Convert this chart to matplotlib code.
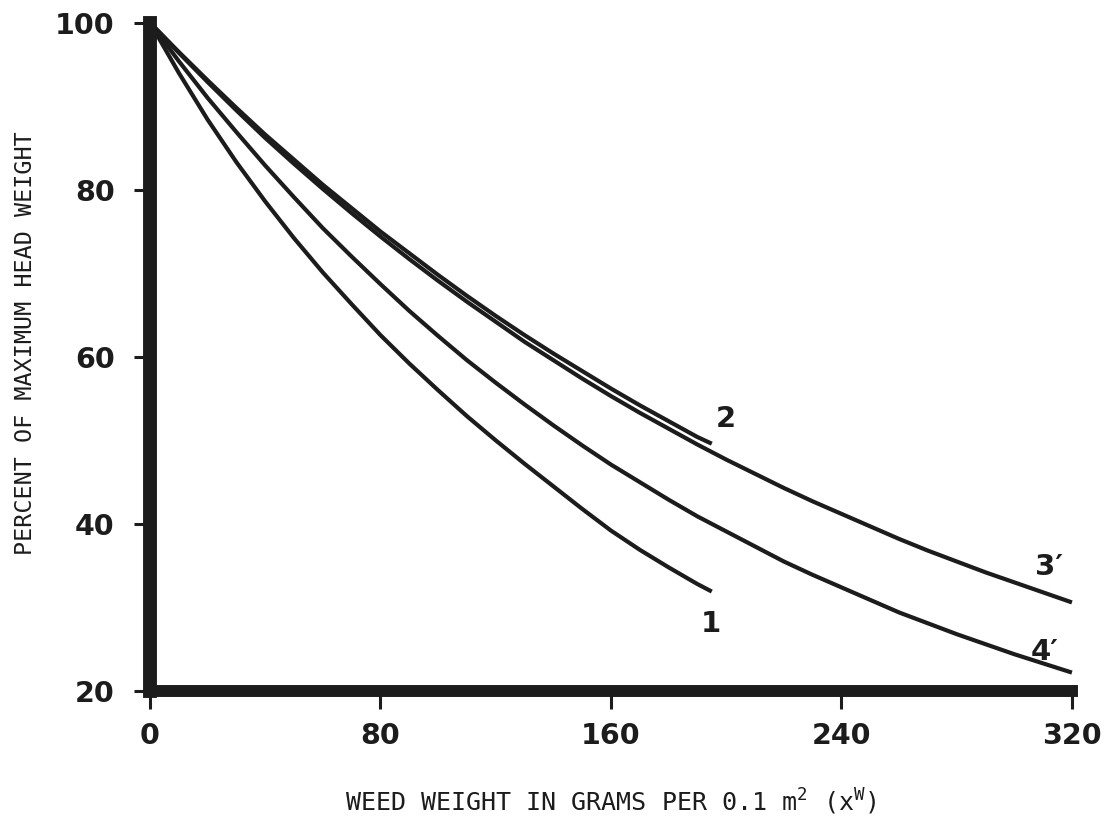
import matplotlib
matplotlib.use("Agg")
import matplotlib.pyplot as plt

# values (percent of maximum head weight)
x_short = [0, 10, 20, 30, 40, 50, 60, 70, 80, 90, 100, 110, 120, 130, 140, 150,
           160, 170, 180, 190, 195]
curve_1 = [100, 94.0, 88.4, 83.3, 78.6, 74.2, 70.1, 66.3, 62.6, 59.2, 56.0, 52.9,
           50.0, 47.2, 44.5, 41.8, 39.2, 36.9, 34.8, 32.8, 31.9]
curve_2 = [100, 96.5, 93.1, 89.8, 86.6, 83.6, 80.6, 77.8, 75.0, 72.4, 69.8, 67.3,
           64.9, 62.6, 60.4, 58.3, 56.2, 54.2, 52.3, 50.4, 49.6]

x_long = [0, 10, 20, 30, 40, 50, 60, 70, 80, 90, 100, 110, 120, 130, 140, 150, 160,
          170, 180, 190, 200, 210, 220, 230, 240, 250, 260, 270, 280, 290, 300, 310, 320]
curve_3 = [100, 96.4, 92.9, 89.5, 86.2, 83.1, 80.1, 77.2, 74.4, 71.7, 69.1, 66.6,
           64.2, 61.8, 59.6, 57.4, 55.3, 53.3, 51.4, 49.5, 47.7, 46.0, 44.3, 42.7,
           41.2, 39.7, 38.2, 36.8, 35.5, 34.2, 33.0, 31.8, 30.6]
curve_4 = [100, 95.4, 91.0, 86.9, 82.9, 79.1, 75.4, 72.0, 68.7, 65.5, 62.5, 59.6,
           56.9, 54.3, 51.8, 49.4, 47.1, 45.0, 42.9, 40.9, 39.1, 37.3, 35.5, 33.9,
           32.4, 30.9, 29.4, 28.1, 26.8, 25.6, 24.4, 23.3, 22.2]

x_ticks = [0, 80, 160, 240, 320]
y_ticks = [20, 40, 60, 80, 100]

ink = "#1c1c1c"
plt.rcParams["mathtext.fontset"] = "custom"
plt.rcParams["mathtext.rm"] = "DejaVu Sans Mono"
plt.rcParams["mathtext.it"] = "DejaVu Sans Mono"

fig = plt.figure(figsize=(11.1, 8.18), dpi=100)
ax = fig.add_axes([0.1351, 0.1553, 0.8306, 0.817])

for xs, ys in [(x_short, curve_1), (x_short, curve_2), (x_long, curve_3), (x_long, curve_4)]:
    ax.plot(xs, ys, color=ink, linewidth=3.0, solid_capstyle="butt", clip_on=False)

ax.set_xlim(0, 320)
ax.set_ylim(20, 100)
ax.set_xticks(x_ticks)
ax.set_yticks(y_ticks)

for side in ["top", "right"]:
    ax.spines[side].set_visible(False)
ax.spines["left"].set_linewidth(10)
ax.spines["bottom"].set_linewidth(8.6)
ax.spines["left"].set_color(ink)
ax.spines["bottom"].set_color(ink)

ax.tick_params(axis="x", direction="out", length=13, width=2.2, pad=9, colors=ink)
ax.tick_params(axis="y", direction="out", length=11.5, width=2.2, pad=14, colors=ink)
for lab in ax.get_xticklabels() + ax.get_yticklabels():
    lab.set_fontfamily("DejaVu Sans")
    lab.set_fontweight("bold")
    lab.set_fontsize(20.5)
    lab.set_color(ink)

label_style = dict(fontsize=21, fontweight="bold", color=ink, family="DejaVu Sans",
                   ha="center", va="center")
ax.text(194.8, 28.0, "1", **label_style)
ax.text(200.0, 52.6, "2", **label_style)
ax.text(312.0, 34.8, "3\u2032", **label_style)
ax.text(310.5, 24.7, "4\u2032", **label_style)

ax.set_xlabel(r"WEED WEIGHT IN GRAMS PER 0.1 m$^{2}$ (x$^{\mathrm{W}}$)",
              family="DejaVu Sans Mono", fontsize=18, color=ink, labelpad=27)
ax.set_ylabel("PERCENT OF MAXIMUM HEAD WEIGHT",
              family="DejaVu Sans Mono", fontsize=16.8, color=ink)
ax.yaxis.set_label_coords(-0.123, 0.521)

fig.savefig("out.png", dpi=100)
